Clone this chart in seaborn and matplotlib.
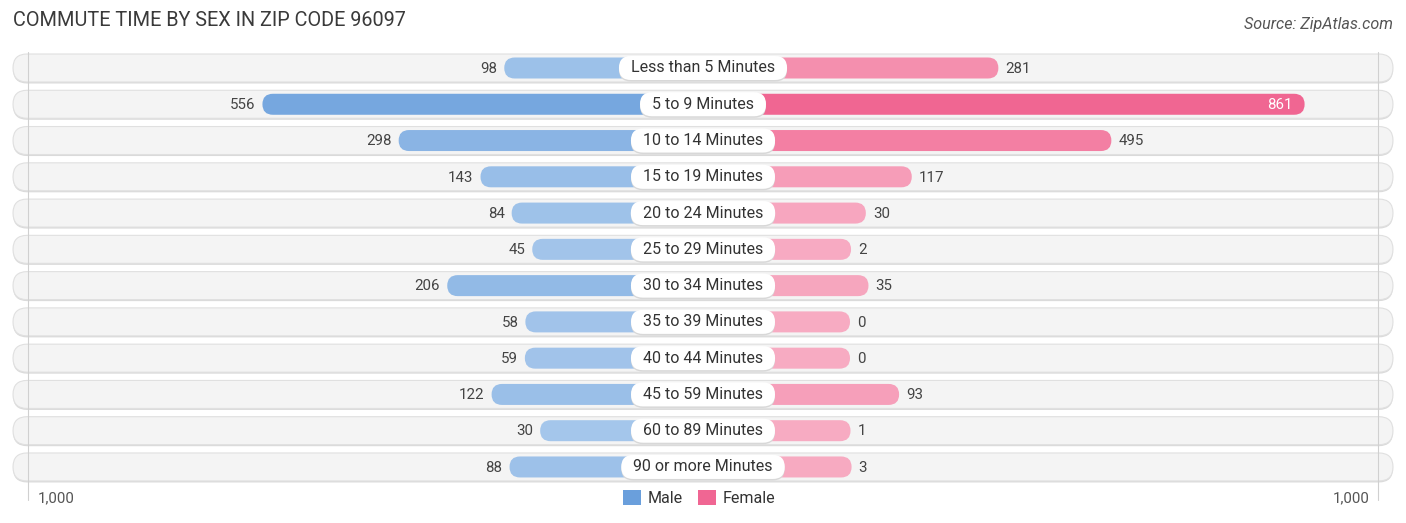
import numpy as np
import pandas as pd
import seaborn as sns
import matplotlib.pyplot as plt
from matplotlib.patches import FancyBboxPatch, Patch
from matplotlib.colors import to_rgb

# data
categories = ["Less than 5 Minutes", "5 to 9 Minutes", "10 to 14 Minutes", "15 to 19 Minutes",
              "20 to 24 Minutes", "25 to 29 Minutes", "30 to 34 Minutes", "35 to 39 Minutes",
              "40 to 44 Minutes", "45 to 59 Minutes", "60 to 89 Minutes", "90 or more Minutes"]
male = [98, 556, 298, 143, 84, 45, 206, 58, 59, 122, 30, 88]
female = [281, 861, 495, 117, 30, 2, 35, 0, 0, 93, 1, 3]
axis_max = 1000
title = "COMMUTE TIME BY SEX IN ZIP CODE 96097"
source = "Source: ZipAtlas.com"

W, H = 1406, 523
PX = 0.528            # pixels per person
OFF = 147 / PX        # bars start behind the centre label
ROW = 36.27           # row spacing in px
TOP = 68              # first row centre in px

sns.set_theme(style="white")
plt.rcParams['font.family'] = ['Roboto', 'DejaVu Sans']

fig = plt.figure(figsize=(W / 100, H / 100), dpi=100)
ax = fig.add_axes([0, 0, 1, 1])
half = (W / 2) / PX

x_per_px = 1 / PX
y_per_px = 1 / ROW
aspect = y_per_px / x_per_px

# row backgrounds
bg_half = (W / 2 - 13) * x_per_px
bg_h = 28 * y_per_px
for i in range(len(categories)):
    ax.add_patch(FancyBboxPatch((-bg_half, i - bg_h / 2 + 1.5 * y_per_px), 2 * bg_half, bg_h,
                                boxstyle=f"round,pad=0,rounding_size={14 * x_per_px}",
                                mutation_aspect=aspect, fc="#dadada", ec="none", zorder=0))
    ax.add_patch(FancyBboxPatch((-bg_half, i - bg_h / 2), 2 * bg_half, bg_h,
                                boxstyle=f"round,pad=0,rounding_size={14 * x_per_px}",
                                mutation_aspect=aspect, fc="#f4f4f4", ec="#e0e0e0", lw=0.8, zorder=1))

# grid lines at +-1000
for s in (-1, 1):
    ax.plot([s * (OFF + axis_max)] * 2, [-0.45, 11.9], color="#d0d0d0", lw=0.8, zorder=1.5)

df = pd.DataFrame({
    "category": categories * 2,
    "value": [-(OFF + v) for v in male] + [OFF + v for v in female],
    "sex": ["Male"] * len(male) + ["Female"] * len(female),
})
n0 = len(ax.patches)
sns.barplot(data=df, x="value", y="category", hue="sex", orient="h", dodge=False,
            width=21 / ROW, palette={"Male": "#6a9fdc", "Female": "#f06693"},
            legend=False, ax=ax, zorder=2)
ax.set_xlim(-half, half)
ax.set_ylim((H - TOP) / ROW, -TOP / ROW)
ax.axis("off")


def shade(light, dark, t):
    a, b = np.array(to_rgb(light)), np.array(to_rgb(dark))
    return tuple(a + (b - a) * t)


vmax = max(max(male), max(female))
bars = [p for p in ax.patches[n0:] if p.get_width() != 0]
for p in bars:
    x, y, w, h = p.get_x(), p.get_y(), p.get_width(), p.get_height()
    if w < 0:
        x, w = x + w, -w
    p.remove()
    is_male = x < 0
    val = w - OFF
    t = min(1, val / vmax) ** 0.8
    col = shade("#a9c9ec", "#6199da", t) if is_male else shade("#f7abc2", "#f06692", t)
    ax.add_patch(FancyBboxPatch((x, y), w, h,
                                boxstyle=f"round,pad=0,rounding_size={10.5 * x_per_px}",
                                mutation_aspect=aspect, fc=col, ec="none", zorder=2))

# centre labels and values
renderer = fig.canvas.get_renderer()
pill_h = 24 * y_per_px
for i, cat in enumerate(categories):
    t = ax.text(0, i, cat, ha="center", va="center", fontsize=11.5, color="#333333", zorder=5)
    tw = t.get_window_extent(renderer).width * x_per_px
    pw = tw + 24 * x_per_px
    ax.add_patch(FancyBboxPatch((-pw / 2, i - pill_h / 2 + 1.5 * y_per_px), pw, pill_h,
                                boxstyle=f"round,pad=0,rounding_size={12 * x_per_px}",
                                mutation_aspect=aspect, fc="#d8d8d8", ec="none", zorder=3.5))
    ax.add_patch(FancyBboxPatch((-pw / 2, i - pill_h / 2), pw, pill_h,
                                boxstyle=f"round,pad=0,rounding_size={12 * x_per_px}",
                                mutation_aspect=aspect, fc="white", ec="none", zorder=4))
    mx = -(OFF + male[i])
    ax.text(mx - 7 * x_per_px, i + 0.02, f"{male[i]:,}", ha="right", va="center",
            fontsize=10.8, color="#444444", zorder=3)
    fx = OFF + female[i]
    if female[i] > 0.8 * axis_max:
        ax.text(fx - 12 * x_per_px, i + 0.02, f"{female[i]:,}", ha="right", va="center",
                fontsize=10.8, color="white", zorder=3)
    else:
        ax.text(fx + 7 * x_per_px, i + 0.02, f"{female[i]:,}", ha="left", va="center",
                fontsize=10.8, color="#444444", zorder=3)

fig.text(13 / W, 1 - 21 / H, title, ha="left", va="center", fontsize=14.3, color="#3a3a3a")
fig.text(1393 / W, 1 - 24 / H, source, ha="right", va="center", fontsize=11.6,
         color="#555555", style="italic")
fig.text(38 / W, 1 - 498 / H, f"{axis_max:,}", ha="left", va="center", fontsize=10.8, color="#555555")
fig.text(1370 / W, 1 - 498 / H, f"{axis_max:,}", ha="right", va="center", fontsize=10.8, color="#555555")

handles = [Patch(fc="#6a9fdc", ec="none", label="Male"),
           Patch(fc="#f06693", ec="none", label="Female")]
fig.legend(handles=handles, loc="center", bbox_to_anchor=(699 / W, 1 - 498 / H), ncol=2,
           frameon=False, fontsize=11.5, handlelength=1.1, handleheight=1.1,
           handletextpad=0.4, columnspacing=1.0, labelcolor="#333333")

fig.savefig("out.png", dpi=100)
